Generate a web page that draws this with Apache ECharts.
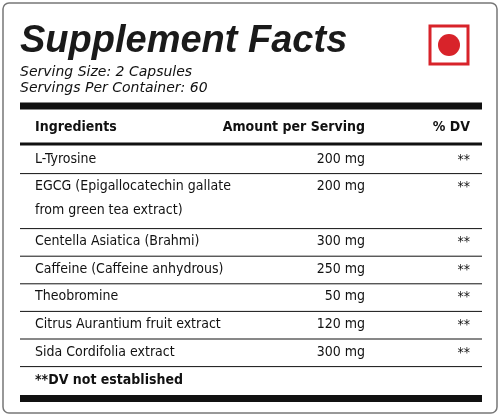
<!DOCTYPE html>
<html><head><meta charset="utf-8">
<script src="https://cdn.jsdelivr.net/npm/echarts@6/dist/echarts.min.js"></script>
<style>html,body{margin:0;padding:0;background:#fff}#c{width:500px;height:417px}</style>
</head><body><div id="c"></div>
<script>
const title = "Supplement Facts";
const servingLines = ["Serving Size: 2 Capsules", "Servings Per Container: 60"];
const headers = ["Ingredients", "Amount per Serving", "% DV"];
const ingredients = [["L-Tyrosine"], ["EGCG (Epigallocatechin gallate", "from green tea extract)"], ["Centella Asiatica (Brahmi)"], ["Caffeine (Caffeine anhydrous)"], ["Theobromine"], ["Citrus Aurantium fruit extract"], ["Sida Cordifolia extract"]];
const amounts = ["200 mg", "200 mg", "300 mg", "250 mg", "50 mg", "120 mg", "300 mg"];
const dv = ["**", "**", "**", "**", "**", "**", "**"];
const footnote = "**DV not established";

const F = "'Liberation Sans Narrow','DejaVu Sans Condensed','Roboto',sans-serif";
const g = [];
g.push({type:'rect',shape:{x:3,y:3,width:494,height:410,r:6},style:{fill:'#fff',stroke:'#777',lineWidth:1.5}});
g.push({type:'text',x:20,y:42,style:{text:title,font:"italic 900 38px 'Liberation Sans','Roboto',sans-serif",fill:'#1a1a1a',textVerticalAlign:'middle'}});
g.push({type:'rect',shape:{x:430,y:26,width:38,height:38},style:{fill:'#fff',stroke:'#d8232a',lineWidth:3}});
g.push({type:'circle',shape:{cx:449,cy:45,r:11},style:{fill:'#d8232a'}});
servingLines.forEach((s,i)=>g.push({type:'text',x:20,y:72+i*16,style:{text:s,font:"italic 500 14px 'DejaVu Sans',sans-serif",fill:'#111',textVerticalAlign:'middle'}}));
const L=20,R=482;
const line=(y,w)=>g.push({type:'line',shape:{x1:L,y1:y,x2:R,y2:y},style:{stroke:'#111',lineWidth:w}});
line(106,7);
const hf="bold 14px "+F;
g.push({type:'text',x:35,y:127,style:{text:headers[0],font:hf,fill:'#111',textVerticalAlign:'middle'}});
g.push({type:'text',x:365,y:127,style:{text:headers[1],font:hf,fill:'#111',textAlign:'right',textVerticalAlign:'middle'}});
g.push({type:'text',x:470,y:127,style:{text:headers[2],font:hf,fill:'#111',textAlign:'right',textVerticalAlign:'middle'}});
line(144,3);
let y=146;
const rf="14px "+F;
ingredients.forEach((lines,i)=>{
  const top=y;
  lines.forEach((t,j)=>g.push({type:'text',x:35,y:top+13+j*24,style:{text:t,font:rf,fill:'#111',textVerticalAlign:'middle'}}));
  g.push({type:'text',x:365,y:top+13,style:{text:amounts[i],font:rf,fill:'#111',textAlign:'right',textVerticalAlign:'middle'}});
  g.push({type:'text',x:470,y:top+14,style:{text:dv[i],font:rf,fill:'#111',textAlign:'right',textVerticalAlign:'middle'}});
  y += lines.length>1?55:27.6;
  line(y,1);
});
g.push({type:'text',x:35,y:y+14,style:{text:footnote,font:hf,fill:'#111',textVerticalAlign:'middle'}});
line(y+32,7);
const chart=echarts.init(document.getElementById('c'));
chart.setOption({animation:false,graphic:g});
</script></body></html>
